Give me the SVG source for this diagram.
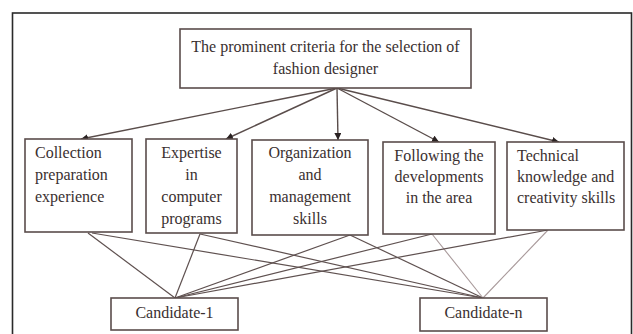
<svg xmlns="http://www.w3.org/2000/svg" width="633" height="334" viewBox="0 0 633 334">
  <style>
    .box { fill: #ffffff; stroke: #5a4d4b; stroke-width: 1.6; }
    .frame { fill: #ffffff; stroke: #2a2a2a; stroke-width: 1.6; }
    .lbl { font-family: "Liberation Serif", "Times New Roman", serif; font-size: 16px; fill: #3a3030; }
    .mid { text-anchor: middle; }
    .arrow { stroke: #5a4d4b; stroke-width: 1.4; fill: none; marker-end: url(#head); }
    .link { stroke: #5f5150; stroke-width: 1.2; fill: none; }
    .faint { stroke: #a8999a; stroke-width: 1.1; fill: none; }
  </style>
  <defs>
    <marker id="head" viewBox="0 0 10 10" refX="10" refY="5" markerWidth="7" markerHeight="7" markerUnits="userSpaceOnUse" orient="auto">
      <path d="M0,0 L10,5 L0,10 Z" fill="#2a2222"/>
    </marker>
  </defs>

  <!-- outer frame, open past the bottom edge -->
  <rect class="frame" x="12.5" y="13" width="619" height="340"/>

  <!-- connectors -->
  <g id="connectors">
    <line class="arrow" x1="337" y1="88" x2="81" y2="139"/>
    <line class="arrow" x1="337" y1="88" x2="226" y2="139"/>
    <line class="arrow" x1="337" y1="88" x2="338" y2="140"/>
    <line class="arrow" x1="337" y1="88" x2="439" y2="142"/>
    <line class="arrow" x1="337" y1="88" x2="559" y2="142"/>

    <line class="link" x1="88" y1="233" x2="175" y2="298"/>
    <line class="link" x1="92" y1="233" x2="483" y2="298"/>
    <line class="link" x1="200" y1="234" x2="175" y2="298"/>
    <line class="link" x1="200" y1="234" x2="483" y2="298"/>
    <line class="link" x1="350" y1="235" x2="175" y2="298"/>
    <line class="link" x1="350" y1="235" x2="483" y2="298"/>
    <line class="link" x1="432" y1="234" x2="175" y2="298"/>
    <line class="faint" x1="432" y1="234" x2="483" y2="298"/>
    <line class="link" x1="548" y1="230" x2="175" y2="298"/>
    <line class="faint" x1="548" y1="230" x2="483" y2="298"/>
  </g>

  <g id="criteria">
    <rect class="box" x="180" y="29" width="291" height="59"/>
    <text class="lbl mid" x="325.5" y="52">The prominent criteria for the selection of</text>
    <text class="lbl mid" x="325.5" y="74">fashion designer</text>
  </g>

  <g id="collection">
    <rect class="box" x="25" y="139" width="107" height="93"/>
    <text class="lbl" x="35" y="158">Collection</text>
    <text class="lbl" x="35" y="180">preparation</text>
    <text class="lbl" x="35" y="202">experience</text>
  </g>

  <g id="expertise">
    <rect class="box" x="146" y="139" width="91" height="94"/>
    <text class="lbl mid" x="191.5" y="158">Expertise</text>
    <text class="lbl mid" x="191.5" y="180">in</text>
    <text class="lbl mid" x="191.5" y="202">computer</text>
    <text class="lbl mid" x="191.5" y="224">programs</text>
  </g>

  <g id="organization">
    <rect class="box" x="252" y="140" width="116" height="95"/>
    <text class="lbl mid" x="310" y="158">Organization</text>
    <text class="lbl mid" x="310" y="180">and</text>
    <text class="lbl mid" x="310" y="202">management</text>
    <text class="lbl mid" x="310" y="224">skills</text>
  </g>

  <g id="following">
    <rect class="box" x="383" y="142" width="112" height="92"/>
    <text class="lbl mid" x="439" y="161">Following the</text>
    <text class="lbl mid" x="439" y="182">developments</text>
    <text class="lbl mid" x="439" y="203">in the area</text>
  </g>

  <g id="technical">
    <rect class="box" x="507" y="142" width="117" height="88"/>
    <text class="lbl" x="517" y="161">Technical</text>
    <text class="lbl" x="517" y="182">knowledge and</text>
    <text class="lbl" x="517" y="203">creativity skills</text>
  </g>

  <g id="candidate-1">
    <rect class="box" x="111" y="298" width="127" height="32"/>
    <text class="lbl mid" x="174.5" y="318">Candidate-1</text>
  </g>

  <g id="candidate-n">
    <rect class="box" x="420" y="298" width="127" height="33"/>
    <text class="lbl mid" x="483.5" y="318">Candidate-n</text>
  </g>
</svg>
